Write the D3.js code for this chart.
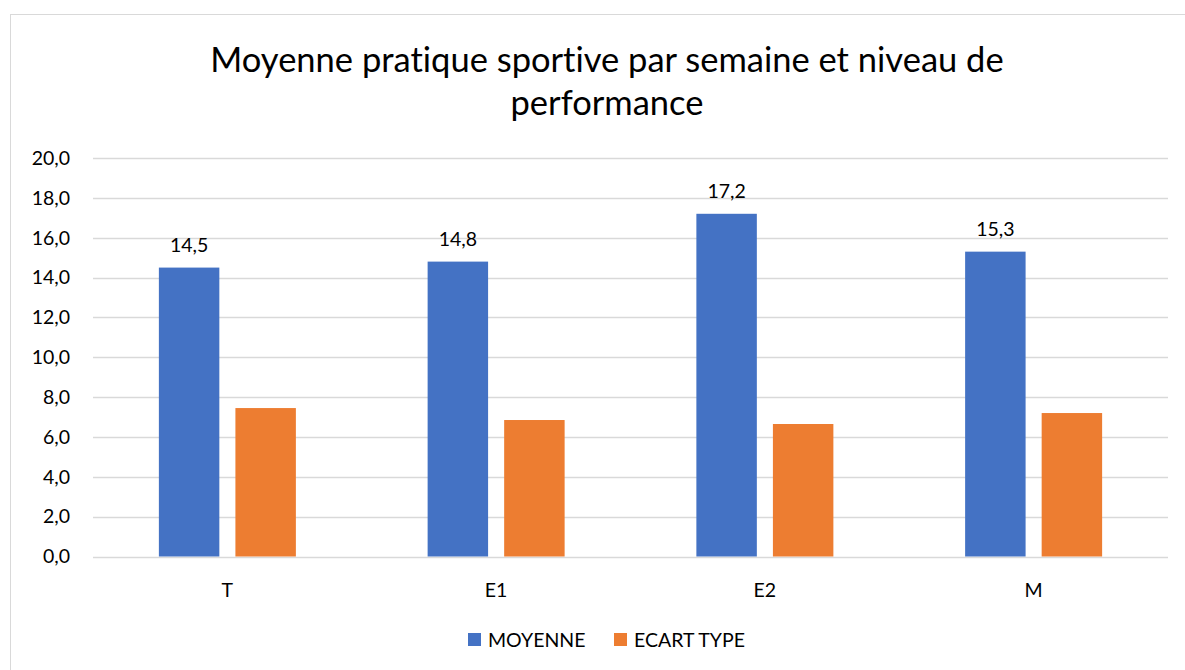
<!DOCTYPE html>
<html>
<head>
<meta charset="utf-8">
<script src="https://cdn.jsdelivr.net/npm/d3@7"></script>
<style>
  body { margin: 0; background: #fff; }
  text { font-family: Lato, "Open Sans", sans-serif; fill: #000; font-variant-ligatures: none; }
</style>
</head>
<body>
<div id="chart"></div>
<script>
// data
var categories = ["T", "E1", "E2", "M"];
var seriesNames = ["MOYENNE", "ECART TYPE"];
var moyenne = [14.5, 14.8, 17.2, 15.3];
var ecartType = [7.45, 6.85, 6.65, 7.2];
var yTicks = [0, 2, 4, 6, 8, 10, 12, 14, 16, 18, 20];
var titleLines = ["Moyenne pratique sportive par semaine et niveau de", "performance"];

var colors = ["#4472C4", "#ED7D31"];
var width = 1185, height = 670;
var margin = {left: 93, right: 17, top: 158, bottom: 113};
var smallFont = "19.5px";

var svg = d3.select("#chart").append("svg")
    .attr("width", width)
    .attr("height", height);

// chart border
svg.append("rect")
    .attr("x", 10.5).attr("y", 14.5)
    .attr("width", width).attr("height", height)
    .attr("fill", "none")
    .attr("stroke", "#d9d9d9");

var x0 = d3.scaleBand()
    .domain(categories)
    .range([margin.left, width - margin.right]);

var x1 = d3.scaleBand()
    .domain(seriesNames)
    .range([0, 137])
    .paddingInner(0.21);

var y = d3.scaleLinear()
    .domain([0, 20])
    .range([height - margin.bottom - 0.5, margin.top]);

var fmt = function(v) { return d3.format(".1f")(v).replace(".", ","); };

// gridlines
svg.append("g")
    .selectAll("line")
    .data(yTicks)
    .enter()
    .append("line")
    .attr("x1", margin.left)
    .attr("x2", width - margin.right)
    .attr("y1", function(d) { return Math.round(y(d)) + 0.5; })
    .attr("y2", function(d) { return Math.round(y(d)) + 0.5; })
    .attr("stroke", "#d9d9d9")
    .attr("stroke-width", 1.3);

// y tick labels
svg.append("g")
    .selectAll("text")
    .data(yTicks)
    .enter()
    .append("text")
    .attr("x", 70)
    .attr("y", function(d) { return y(d); })
    .attr("dy", "0.35em")
    .attr("text-anchor", "end")
    .style("font-size", smallFont)
    .text(fmt);

// bars
var rows = categories.map(function(c, i) {
    return {cat: c, values: [moyenne[i], ecartType[i]]};
});

var groups = svg.append("g")
    .selectAll("g")
    .data(rows)
    .enter()
    .append("g")
    .attr("transform", function(d) {
        return "translate(" + (x0(d.cat) + x0.bandwidth() / 2 - 68.5) + ",0)";
    });

groups.selectAll("rect")
    .data(function(d) {
        return d.values.map(function(v, j) { return {name: seriesNames[j], value: v, j: j}; });
    })
    .enter()
    .append("rect")
    .attr("x", function(d) { return x1(d.name); })
    .attr("y", function(d) { return y(d.value); })
    .attr("width", x1.bandwidth())
    .attr("height", function(d) { return y(0) - y(d.value); })
    .attr("fill", function(d) { return colors[d.j]; });

// data labels on MOYENNE only
groups.append("text")
    .attr("x", x1("MOYENNE") + x1.bandwidth() / 2)
    .attr("y", function(d) { return y(d.values[0]) - 16; })
    .attr("text-anchor", "middle")
    .style("font-size", smallFont)
    .text(function(d) { return fmt(d.values[0]); });

// category labels
svg.append("g")
    .selectAll("text")
    .data(categories)
    .enter()
    .append("text")
    .attr("x", function(d) { return x0(d) + x0.bandwidth() / 2; })
    .attr("y", 597)
    .attr("text-anchor", "middle")
    .style("font-size", smallFont)
    .text(function(d) { return d; });

// title
svg.append("g")
    .selectAll("text")
    .data(titleLines)
    .enter()
    .append("text")
    .attr("x", 607)
    .attr("y", function(d, i) { return 72 + i * 43; })
    .attr("text-anchor", "middle")
    .style("font-size", "34.5px")
    .text(function(d) { return d; });

// legend
var legendX = [468, 614];
var legend = svg.append("g")
    .selectAll("g")
    .data(seriesNames)
    .enter()
    .append("g")
    .attr("transform", function(d, i) { return "translate(" + legendX[i] + ",633)"; });

legend.append("rect")
    .attr("width", 13)
    .attr("height", 13)
    .attr("fill", function(d, i) { return colors[i]; });

legend.append("text")
    .attr("x", 20)
    .attr("y", 14)
    .style("font-size", smallFont)
    .text(function(d) { return d; });
</script>
</body>
</html>
